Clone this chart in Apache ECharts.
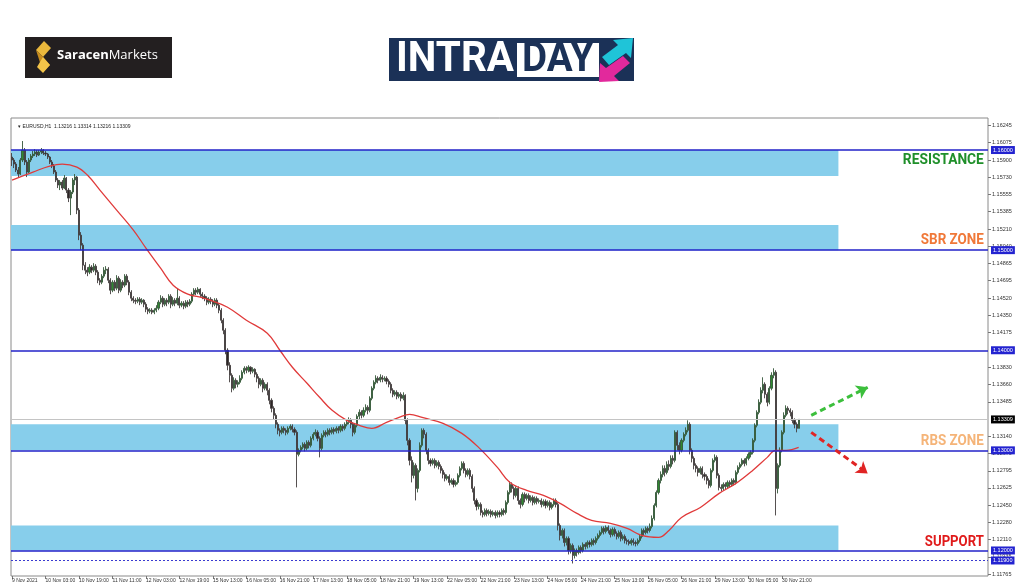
<!DOCTYPE html>
<html><head><meta charset="utf-8">
<script src="https://cdn.jsdelivr.net/npm/echarts@6/dist/echarts.min.js"></script>
<style>html,body{margin:0;padding:0;background:#fff}#c{width:1024px;height:587px}</style>
</head><body><div id="c"></div>
<script>
// ---- data (prices in pips: 11590 = 1.1590) ----
const xTickLabels = ['9 Nov 2021','10 Nov 03:00','10 Nov 19:00','11 Nov 11:00','12 Nov 03:00','12 Nov 19:00','15 Nov 13:00','16 Nov 05:00','16 Nov 21:00','17 Nov 13:00','18 Nov 05:00','18 Nov 21:00','19 Nov 13:00','22 Nov 05:00','22 Nov 21:00','23 Nov 13:00','24 Nov 05:00','24 Nov 21:00','25 Nov 13:00','26 Nov 05:00','26 Nov 21:00','29 Nov 13:00','30 Nov 05:00','30 Nov 21:00'];
const yTickLabels = [1.16245,1.16075,1.159,1.1573,1.15555,1.15385,1.1521,1.1504,1.14865,1.14695,1.1452,1.1435,1.14175,1.1383,1.1366,1.13485,1.1314,1.1297,1.12795,1.12625,1.1245,1.1228,1.1211,1.11935,1.11765];
const levels = [1.16, 1.15, 1.14, 1.13, 1.12];
const dottedLevel = 1.119;
const lastPrice = 1.13309;
const zones = [[1.16, 1.1574], [1.15, 1.1525], [1.13, 1.1326], [1.12, 1.1225]];
// text, price, colour, width in px
const zoneTexts = [['RESISTANCE', 1.1590, '#1f8f2a', 81], ['SBR ZONE', 1.1510, '#f07838', 63], ['RBS ZONE', 1.1309, '#f5b478', 63], ['SUPPORT', 1.1208, '#e01a1a', 59]];
// [open, close, low, high]
const ohlcPips = [
[11593,11590,11584,11597],[11590,11586,11582,11592],[11586,11580,11578,11588],[11580,11576,11573,11583],[11576,11590,11575,11592],
[11590,11600,11588,11609],[11600,11588,11585,11602],[11588,11578,11573,11590],[11578,11590,11577,11592],[11590,11594,11588,11596],
[11594,11596,11592,11599],[11596,11598,11594,11601],[11598,11595,11593,11600],[11595,11598,11594,11600],[11598,11600,11596,11602],
[11600,11597,11595,11601],[11597,11596,11594,11599],[11596,11593,11591,11597],[11593,11588,11586,11594],[11588,11584,11582,11590],
[11584,11578,11576,11586],[11578,11570,11568,11580],[11570,11565,11562,11572],[11565,11568,11560,11570],[11568,11562,11560,11570],
[11562,11572,11561,11575],[11572,11560,11557,11573],[11560,11552,11548,11562],[11552,11558,11535,11560],[11558,11570,11556,11572],
[11570,11573,11565,11576],[11573,11540,11536,11574],[11540,11515,11510,11542],[11515,11505,11500,11518],[11505,11485,11480,11507],
[11485,11480,11476,11488],[11480,11478,11474,11483],[11478,11483,11476,11486],[11483,11480,11477,11485],[11480,11484,11478,11487],
[11484,11478,11475,11486],[11478,11470,11467,11480],[11470,11468,11465,11472],[11468,11474,11466,11476],[11474,11480,11472,11483],
[11480,11481,11476,11484],[11481,11470,11467,11483],[11470,11460,11456,11472],[11460,11468,11458,11470],[11468,11462,11459,11470],
[11462,11472,11460,11475],[11472,11460,11457,11474],[11460,11468,11458,11471],[11468,11465,11462,11470],[11465,11474,11463,11476],
[11474,11468,11465,11476],[11468,11458,11455,11470],[11458,11452,11449,11460],[11452,11450,11447,11454],[11450,11449,11446,11452],
[11449,11451,11447,11453],[11451,11448,11445,11453],[11448,11450,11446,11452],[11450,11446,11443,11451],[11446,11441,11438,11448],
[11441,11439,11436,11443],[11439,11440,11437,11442],[11440,11438,11436,11442],[11438,11440,11436,11442],[11440,11442,11438,11445],
[11442,11448,11440,11450],[11448,11452,11446,11455],[11452,11446,11443,11454],[11446,11450,11444,11452],[11450,11448,11444,11452],
[11448,11454,11446,11456],[11454,11446,11442,11456],[11446,11450,11444,11453],[11450,11447,11444,11452],[11447,11452,11445,11462],
[11452,11445,11442,11454],[11445,11447,11443,11449],[11447,11444,11441,11449],[11444,11448,11442,11450],[11448,11446,11443,11450],
[11446,11449,11444,11451],[11449,11456,11447,11458],[11456,11460,11454,11462],[11460,11458,11455,11462],[11458,11461,11456,11463],
[11461,11456,11453,11462],[11456,11454,11451,11458],[11454,11452,11449,11456],[11452,11448,11445,11454],[11448,11451,11446,11453],
[11451,11449,11446,11453],[11449,11446,11443,11451],[11446,11450,11444,11452],[11450,11445,11442,11452],[11445,11440,11437,11447],
[11440,11430,11427,11442],[11430,11420,11416,11432],[11420,11400,11396,11422],[11400,11385,11380,11402],[11385,11375,11368,11388],
[11375,11362,11358,11377],[11362,11370,11360,11373],[11370,11366,11362,11372],[11366,11368,11363,11370],[11368,11372,11366,11375],
[11372,11378,11370,11380],[11378,11382,11376,11384],[11382,11380,11377,11384],[11380,11383,11378,11385],[11383,11379,11376,11384],
[11379,11381,11377,11383],[11381,11376,11373,11382],[11376,11372,11368,11378],[11372,11366,11362,11374],[11366,11370,11364,11372],
[11370,11362,11358,11372],[11362,11366,11360,11368],[11366,11360,11355,11368],[11360,11350,11346,11362],[11350,11342,11338,11352],
[11342,11335,11331,11344],[11335,11326,11322,11337],[11326,11320,11316,11328],[11320,11318,11314,11322],[11318,11322,11316,11324],
[11322,11320,11317,11324],[11320,11318,11315,11322],[11318,11322,11316,11324],[11322,11324,11320,11326],[11324,11321,11318,11326],
[11321,11318,11315,11323],[11318,11296,11263,11320],[11296,11300,11294,11302],[11300,11303,11298,11305],[11303,11306,11301,11308],
[11306,11302,11299,11308],[11302,11308,11300,11310],[11308,11305,11302,11310],[11305,11312,11303,11314],[11312,11316,11310,11318],
[11316,11318,11314,11321],[11318,11312,11309,11320],[11312,11302,11293,11314],[11302,11315,11300,11317],[11315,11318,11313,11320],
[11318,11316,11313,11320],[11316,11320,11314,11322],[11320,11318,11315,11322],[11318,11321,11316,11323],[11321,11319,11316,11323],
[11319,11322,11317,11324],[11322,11320,11317,11324],[11320,11324,11318,11326],[11324,11322,11319,11326],[11322,11326,11320,11328],
[11326,11328,11324,11331],[11328,11330,11326,11333],[11330,11326,11322,11332],[11326,11318,11314,11328],[11318,11325,11316,11327],
[11325,11334,11323,11336],[11334,11338,11331,11341],[11338,11335,11332,11340],[11335,11340,11333,11343],[11340,11343,11338,11346],
[11343,11340,11336,11345],[11340,11352,11338,11354],[11352,11362,11350,11364],[11362,11368,11360,11370],[11368,11372,11366,11375],
[11372,11370,11367,11374],[11370,11373,11368,11376],[11373,11371,11368,11375],[11371,11372,11369,11374],[11372,11369,11366,11374],
[11369,11366,11363,11371],[11366,11360,11357,11368],[11360,11356,11353,11362],[11356,11358,11354,11360],[11358,11354,11351,11360],
[11354,11356,11352,11358],[11356,11352,11349,11358],[11352,11355,11350,11358],[11355,11330,11326,11356],[11330,11310,11305,11332],
[11310,11290,11285,11312],[11290,11275,11268,11294],[11275,11285,11272,11288],[11285,11262,11250,11287],[11262,11280,11258,11282],
[11280,11305,11278,11308],[11305,11320,11303,11322],[11320,11316,11312,11322],[11316,11300,11296,11318],[11300,11290,11286,11302],
[11290,11287,11284,11292],[11287,11290,11285,11292],[11290,11285,11282,11292],[11285,11288,11283,11290],[11288,11284,11281,11290],
[11284,11280,11277,11286],[11280,11276,11272,11282],[11276,11272,11269,11278],[11272,11274,11270,11276],[11274,11268,11265,11276],
[11268,11270,11266,11272],[11270,11266,11263,11272],[11266,11268,11264,11270],[11268,11275,11266,11277],[11275,11282,11273,11284],
[11282,11287,11280,11289],[11287,11280,11277,11289],[11280,11276,11273,11282],[11276,11280,11274,11282],[11280,11274,11271,11282],
[11274,11262,11258,11276],[11262,11250,11246,11264],[11250,11244,11240,11252],[11244,11246,11241,11248],[11246,11238,11235,11248],
[11238,11236,11233,11240],[11236,11240,11234,11242],[11240,11237,11234,11242],[11237,11239,11235,11241],[11239,11236,11233,11241],
[11236,11238,11234,11240],[11238,11235,11232,11240],[11235,11238,11233,11240],[11238,11236,11233,11240],[11236,11240,11234,11242],
[11240,11238,11235,11242],[11238,11248,11236,11250],[11248,11258,11246,11260],[11258,11266,11256,11269],[11266,11262,11258,11268],
[11262,11255,11251,11264],[11255,11262,11253,11264],[11262,11250,11246,11264],[11250,11246,11242,11252],[11246,11256,11244,11258],
[11256,11252,11248,11258],[11252,11255,11250,11257],[11255,11250,11247,11257],[11250,11253,11248,11255],[11253,11248,11245,11255],
[11248,11252,11246,11254],[11252,11249,11246,11254],[11249,11250,11247,11252],[11250,11246,11243,11252],[11246,11249,11244,11251],
[11249,11245,11242,11251],[11245,11248,11243,11250],[11248,11243,11240,11250],[11243,11246,11241,11248],[11246,11250,11244,11252],
[11250,11246,11243,11252],[11246,11225,11220,11248],[11225,11215,11210,11227],[11215,11220,11212,11222],[11220,11208,11204,11222],
[11208,11212,11205,11214],[11212,11200,11196,11214],[11200,11205,11197,11207],[11205,11195,11187,11207],[11195,11200,11192,11202],
[11200,11198,11194,11202],[11198,11203,11196,11205],[11203,11200,11197,11205],[11200,11206,11198,11208],[11206,11204,11201,11208],
[11204,11208,11202,11210],[11208,11206,11203,11210],[11206,11210,11204,11212],[11210,11208,11205,11212],[11208,11212,11206,11214],
[11212,11215,11210,11217],[11215,11218,11213,11220],[11218,11222,11216,11224],[11222,11219,11216,11224],[11219,11223,11217,11225],
[11223,11220,11217,11225],[11220,11216,11213,11222],[11216,11221,11214,11223],[11221,11217,11214,11223],[11217,11214,11211,11219],
[11214,11218,11212,11220],[11218,11212,11209,11220],[11212,11214,11210,11216],[11214,11210,11207,11216],[11210,11209,11206,11212],
[11209,11207,11205,11211],[11207,11210,11205,11212],[11210,11208,11205,11212],[11208,11207,11204,11210],[11207,11210,11205,11212],
[11210,11214,11208,11216],[11214,11220,11212,11222],[11220,11218,11215,11222],[11218,11222,11216,11224],[11222,11220,11217,11224],
[11220,11224,11218,11227],[11224,11232,11222,11235],[11232,11245,11230,11247],[11245,11258,11243,11260],[11258,11270,11256,11272],
[11270,11276,11267,11279],[11276,11282,11273,11285],[11282,11278,11274,11285],[11278,11286,11276,11289],[11286,11284,11280,11290],
[11284,11292,11282,11295],[11292,11290,11286,11295],[11290,11318,11288,11320],[11318,11305,11300,11320],[11305,11300,11296,11308],
[11300,11310,11298,11312],[11310,11316,11308,11318],[11316,11320,11314,11323],[11320,11326,11318,11330],[11326,11300,11296,11328],
[11300,11292,11288,11302],[11292,11285,11281,11294],[11285,11282,11278,11287],[11282,11278,11274,11284],[11278,11282,11276,11284],
[11282,11276,11272,11284],[11276,11274,11270,11278],[11274,11270,11266,11276],[11270,11265,11262,11272],[11265,11280,11263,11282],
[11280,11290,11278,11292],[11290,11293,11288,11296],[11293,11275,11272,11295],[11275,11263,11260,11277],[11263,11262,11259,11266],
[11262,11266,11260,11268],[11266,11264,11261,11268],[11264,11268,11262,11270],[11268,11266,11263,11270],[11266,11270,11264,11272],
[11270,11268,11265,11272],[11268,11278,11266,11280],[11278,11283,11276,11285],[11283,11286,11281,11288],[11286,11290,11284,11292],
[11290,11287,11284,11292],[11287,11292,11285,11294],[11292,11296,11290,11298],[11296,11298,11293,11300],[11298,11310,11296,11312],
[11310,11325,11308,11327],[11325,11338,11323,11340],[11338,11348,11336,11351],[11348,11360,11346,11363],[11360,11366,11357,11373],
[11366,11356,11352,11368],[11356,11348,11344,11358],[11348,11362,11346,11364],[11362,11375,11360,11378],[11375,11378,11372,11382],
[11378,11262,11235,11380],[11262,11285,11257,11287],[11285,11300,11283,11303],[11300,11318,11298,11320],[11318,11335,11316,11338],
[11335,11342,11333,11345],[11342,11340,11336,11344],[11340,11338,11334,11342],[11338,11330,11327,11340],[11330,11326,11322,11332],
[11326,11322,11318,11328],[11322,11331,11322,11331]
];
// moving average at these bar positions
const maBars = [0,10,18,24,31,36,42,50,58,64,71,77,84,90,96,103,112,122,128,134,141,147,153,160,166,172,179,185,190,196,206,215,223,232,238,246,254,262,270,277,286,294,301,309,314,320,329,338,346,354,361,365,370,376];
const maPips = [11570,11578,11584,11586,11583,11575,11560,11540,11520,11502,11482,11465,11456,11453,11449,11443,11430,11417,11400,11383,11367,11353,11340,11330,11325,11322,11328,11333,11336,11333,11327,11317,11303,11283,11268,11260,11255,11247,11237,11230,11227,11222,11215,11213,11220,11233,11243,11257,11267,11280,11293,11300,11300,11303];
const totalSlots = 467;       // bars + empty chart shift on the right
const zoneEndBar = 395;
const textBar = 465;
const arrows = [
  {from: [382, 1.1335], to: [409, 1.1363], color: '#3cbf3c'},
  {from: [382, 1.1318], to: [409, 1.1277], color: '#e02424'}
];
// ---- build ----
const categories = Array.from({length: totalSlots}, (_, i) => String(i));
const ohlc = ohlcPips.map(r => r.map(v => v / 10000));
const maData = maBars.map((b, k) => [b, maPips[k] / 10000]);
const boldFont = 'Roboto';

const cv = document.createElement('canvas').getContext('2d');
function textWidth(t, size) { cv.font = 'bold ' + size + 'px ' + boldFont; return cv.measureText(t).width; }
function squeezedText(t, x, y, size, color, width, align) {
  return {type: 'text', x: x, y: y, scaleX: width / textWidth(t, size), scaleY: 1, z: 50,
    style: {text: t, x: 0, y: 0, fontSize: size, fontWeight: 'bold', fontFamily: boldFont, fill: color,
            align: align || 'left', verticalAlign: 'middle'}};
}

const chart = echarts.init(document.getElementById('c'), null, {renderer: 'canvas'});
const lvlLabel = (v, txt, bg) => ({yAxis: v, label: {formatter: txt, backgroundColor: bg}});
chart.setOption({
  animation: false,
  backgroundColor: '#ffffff',
  title: {text: '\u25BE EURUSD,H1  1.13216 1.13314 1.13216 1.13309', left: 13, top: 119,
          textStyle: {fontSize: 5, fontWeight: 'normal', color: '#222', fontFamily: 'Liberation Sans'}},
  grid: {left: 11, right: 36, top: 118, bottom: 11, show: true, borderColor: '#8a8a8a', borderWidth: 1, backgroundColor: '#fff'},
  xAxis: {
    type: 'category', data: categories, boundaryGap: true,
    axisLine: {show: false},
    axisTick: {show: true, alignWithLabel: true, length: 3, lineStyle: {color: '#777'},
               interval: (i) => i % 16 === 0 && i / 16 < xTickLabels.length},
    axisLabel: {interval: (i) => i % 16 === 0 && i / 16 < xTickLabels.length,
                formatter: (v, i) => xTickLabels[i / 16] || '', align: 'left', margin: 2,
                fontSize: 5, color: '#333', fontFamily: 'Liberation Sans'},
    splitLine: {show: false}
  },
  yAxis: {
    type: 'value', position: 'right', min: 1.11745, max: 1.1632, scale: true,
    axisLine: {show: false}, splitLine: {show: false},
    axisTick: {show: true, customValues: yTickLabels, length: 3, lineStyle: {color: '#777'}},
    axisLabel: {customValues: yTickLabels, formatter: v => v.toFixed(5), fontSize: 5.5, margin: 4,
                color: '#333', fontFamily: 'Liberation Sans'}
  },
  series: [
    {
      type: 'candlestick', data: ohlc, barWidth: 1.6, z: 2,
      itemStyle: {color: '#2f8a2f', color0: '#2d2626', borderColor: '#35573a', borderColor0: '#433d3d', borderWidth: 0.9},
      markArea: {silent: true, itemStyle: {color: '#87ceeb'},
        data: zones.map(z => [{yAxis: z[0]}, {xAxis: categories[zoneEndBar], yAxis: z[1]}])},
      markLine: {silent: true, symbol: 'none', precision: 5,
        lineStyle: {color: '#2222c8', width: 1.5, type: 'solid'},
        label: {show: true, position: 'end', distance: 3, color: '#fff', fontSize: 5.5, padding: [1, 2],
                fontFamily: 'Liberation Sans'},
        data: levels.map(v => lvlLabel(v, v.toFixed(5), '#2323d0')).concat([
          {yAxis: dottedLevel, lineStyle: {type: [2, 2], width: 1, color: '#3a3ad0'},
           label: {formatter: dottedLevel.toFixed(5), backgroundColor: '#2323d0'}},
          {yAxis: lastPrice, lineStyle: {type: 'solid', width: 1, color: '#c4c4c4'},
           label: {formatter: lastPrice.toFixed(5), backgroundColor: '#000'}}
        ])}
    },
    {
      type: 'line', data: maData, smooth: 0.4, showSymbol: false, z: 3,
      lineStyle: {color: '#e03a3a', width: 1.3},
      markLine: {silent: true, symbol: ['none', 'arrow'], symbolSize: 11,
        label: {show: false},
        data: arrows.map(a => [
          {coord: [categories[a.from[0]], a.from[1]], lineStyle: {color: a.color, width: 3, type: [6, 4]}, itemStyle: {color: a.color}},
          {coord: [categories[a.to[0]], a.to[1]], itemStyle: {color: a.color}}
        ])}
    }
  ]
});

// annotation texts placed through the chart's own scales + logos
const graphics = [
  {type: 'rect', shape: {x: 25, y: 37, width: 147, height: 41}, style: {fill: '#231f20'}},
  {type: 'polygon', shape: {points: [[44,41],[51,48],[43,57],[36,50]]}, style: {fill: '#eab83c'}},
  {type: 'polygon', shape: {points: [[36,50],[43,57],[50,65],[43,72]]}, style: {fill: '#c68c1e'}},
  {type: 'polygon', shape: {points: [[43,57],[50,65],[43,73],[37,67]]}, style: {fill: '#f3c449'}},
  {type: 'text', left: 57, top: 49, style: {text: '{b|Saracen}{n|Markets}',
    rich: {b: {fontSize: 13, fontWeight: 'bold', fill: '#fff', fontFamily: 'Open Sans'},
           n: {fontSize: 13, fill: '#fff', fontFamily: 'Open Sans'}}}},
  {type: 'rect', shape: {x: 389, y: 38, width: 245, height: 43}, style: {fill: '#1b3157'}},
  {type: 'rect', shape: {x: 517, y: 43, width: 82, height: 34}, style: {fill: '#ffffff'}},
  squeezedText('INTRA', 396, 60, 42, '#ffffff', 118),
  squeezedText('DAY', 522, 60, 42, '#1b3157', 72),
  {type: 'polygon', shape: {points: [[602,57],[618,45],[613,40],[633,38],[631,58],[626,53],[609,65]]}, style: {fill: '#1fc4d8'}},
  {type: 'polygon', shape: {points: [[630,63],[614,76],[619,81],[599,82],[600,63],[606,68],[623,56]]}, style: {fill: '#e2299c'}}
];
zoneTexts.forEach(t => {
  const p = chart.convertToPixel({gridIndex: 0}, [categories[textBar], t[1]]);
  graphics.push(squeezedText(t[0], p[0] - 1, p[1], 15.5, t[2], t[3], 'right'));
});
chart.setOption({graphic: graphics});
</script></body></html>
